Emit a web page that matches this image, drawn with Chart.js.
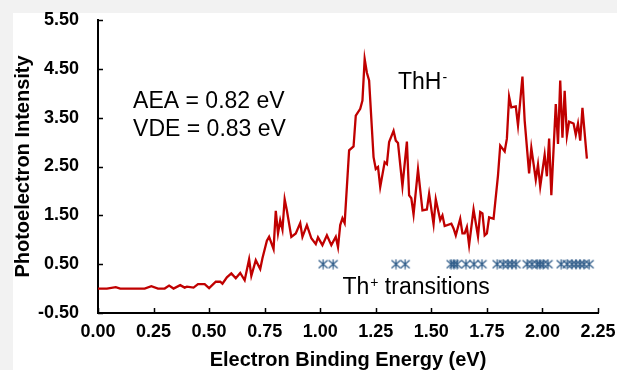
<!DOCTYPE html>
<html>
<head>
<meta charset="utf-8">
<script src="https://cdn.jsdelivr.net/npm/chart.js@4.4.1/dist/chart.umd.min.js"></script>
<style>
  html, body { margin: 0; padding: 0; background: #f2f2f2; overflow: hidden; }
  #paper { position: absolute; left: 13px; top: 13px; right: 0; bottom: 0; background: #fff; }
  #spectrum { position: absolute; left: 0; top: 0; }
</style>
</head>
<body>
<div id="paper"></div>
<canvas id="spectrum" width="617" height="370"></canvas>
<script>
// ThH- photoelectron spectrum
const energy = [
  0.00, 0.04, 0.08, 0.10, 0.15, 0.21, 0.24, 0.27, 0.30, 0.32, 0.34, 0.37, 0.39, 0.40, 0.43, 0.45, 0.48, 0.50,
  0.53, 0.55, 0.56, 0.58, 0.60, 0.62, 0.64, 0.66, 0.68, 0.69, 0.71, 0.73, 0.74, 0.76, 0.77, 0.79, 0.80, 0.81,
  0.82, 0.83, 0.84, 0.85, 0.87, 0.89, 0.91, 0.92, 0.94, 0.96, 0.98, 0.99, 1.01, 1.03, 1.05, 1.07, 1.08, 1.09,
  1.10, 1.11, 1.13, 1.15, 1.16, 1.18, 1.19, 1.20, 1.21, 1.22, 1.24, 1.25, 1.26, 1.27, 1.29, 1.30, 1.31, 1.33,
  1.34, 1.35, 1.37, 1.39, 1.40, 1.41, 1.42, 1.44, 1.46, 1.48, 1.49, 1.51, 1.52, 1.54, 1.55, 1.56, 1.59, 1.60,
  1.61, 1.63, 1.64, 1.65, 1.66, 1.67, 1.69, 1.71, 1.72, 1.73, 1.74, 1.75, 1.76, 1.78, 1.80, 1.81, 1.83, 1.84,
  1.85, 1.86, 1.88, 1.89, 1.91, 1.92, 1.94, 1.95, 1.97, 1.98, 1.99, 2.01, 2.02, 2.03, 2.04, 2.06, 2.07, 2.08,
  2.09, 2.10, 2.11, 2.12, 2.14, 2.15, 2.16, 2.17, 2.18, 2.20
];
const intensity = [
  0.00, 0.00, 0.03, 0.00, 0.00, 0.00, 0.05, 0.00, 0.00, 0.06, 0.00, 0.07, 0.02, 0.04, 0.02, 0.09, 0.09, 0.01,
  0.14, 0.14, 0.10, 0.23, 0.31, 0.21, 0.32, 0.17, 0.60, 0.26, 0.58, 0.40, 0.62, 0.98, 1.06, 0.81, 1.59, 1.13,
  1.40, 1.21, 1.83, 1.60, 1.06, 1.13, 1.34, 1.06, 1.30, 1.03, 0.91, 1.05, 0.89, 1.09, 0.89, 1.06, 0.85, 1.30,
  1.44, 1.34, 2.83, 2.91, 3.54, 3.68, 3.85, 4.70, 4.42, 4.26, 2.69, 2.45, 2.49, 2.08, 2.59, 2.55, 3.00, 3.23,
  3.03, 2.98, 2.10, 3.01, 1.91, 1.85, 1.52, 2.44, 1.60, 1.62, 1.94, 1.32, 1.83, 1.40, 1.50, 1.28, 1.33, 1.23,
  1.09, 1.43, 1.13, 1.13, 1.26, 0.89, 1.62, 1.07, 1.57, 1.54, 1.09, 1.13, 1.46, 1.43, 2.32, 2.93, 2.81, 3.07,
  3.93, 3.71, 3.73, 3.34, 4.34, 3.44, 2.36, 2.88, 2.23, 2.54, 2.09, 2.74, 2.30, 3.07, 1.91, 3.78, 2.96, 4.26,
  3.09, 4.05, 3.13, 3.42, 3.38, 3.15, 3.38, 3.03, 3.70, 2.66
];

// Th+ atomic transitions, all drawn at one height
const transitions = [
  1.013, 1.058, 1.341, 1.382, 1.589, 1.602, 1.616, 1.656, 1.692, 1.728,
  1.796, 1.823, 1.845, 1.863, 1.881, 1.931, 1.953, 1.976, 1.989, 2.003, 2.025,
  2.084, 2.111, 2.133, 2.151, 2.169, 2.187, 2.210
];
const transitionLevel = 0.5;

const xTicks = [0, 0.25, 0.5, 0.75, 1.0, 1.25, 1.5, 1.75, 2.0, 2.25];
const yTicks = [-0.5, 0.5, 1.5, 2.5, 3.5, 4.5, 5.5];

// text labels placed in data coordinates
const notes = [
  { text: "AEA = 0.82 eV", x: 0.158, y: 3.70 },
  { text: "VDE = 0.83 eV", x: 0.158, y: 3.13 },
  { text: "ThH", sup: "-", x: 1.35, y: 4.09 },
  { text: "Th", sup: "+", rest: " transitions", x: 1.10, y: -0.11 },
];

const FONT = "'Liberation Sans', Arial, sans-serif";
Chart.defaults.font.family = FONT;
Chart.defaults.color = "#000";

// asterisk marker like the spreadsheet's "*" symbol
const star = document.createElement("canvas");
star.width = 11;
star.height = 11;
(function () {
  const c = star.getContext("2d");
  c.strokeStyle = "#2b5987";
  c.lineWidth = 1.2;
  c.beginPath();
  c.moveTo(1, 1.5); c.lineTo(10, 9.5);
  c.moveTo(10, 1.5); c.lineTo(1, 9.5);
  c.moveTo(5.5, 0.5); c.lineTo(5.5, 10.5);
  c.stroke();
})();

// inward tick marks + text notes
const extras = {
  id: "extras",
  afterDraw(chart) {
    const { ctx, chartArea, scales } = chart;
    const xs = scales.x, ys = scales.y;
    ctx.save();
    ctx.strokeStyle = "#000";
    ctx.lineWidth = 1.5;
    ctx.beginPath();
    xs.ticks.forEach((t) => {
      const px = Math.round(xs.getPixelForValue(t.value)) + 0.5;
      ctx.moveTo(px, chartArea.bottom);
      ctx.lineTo(px, chartArea.bottom - 5);
    });
    ys.ticks.forEach((t) => {
      const py = Math.round(ys.getPixelForValue(t.value)) + 0.5;
      ctx.moveTo(chartArea.left, py);
      ctx.lineTo(chartArea.left + 5, py);
    });
    ctx.stroke();

    ctx.fillStyle = "#000";
    ctx.textBaseline = "alphabetic";
    ctx.textAlign = "left";
    notes.forEach((n) => {
      let px = xs.getPixelForValue(n.x);
      const py = ys.getPixelForValue(n.y);
      ctx.font = "23px " + FONT;
      ctx.fillText(n.text, px, py);
      px += ctx.measureText(n.text).width;
      if (n.sup) {
        ctx.font = "14px " + FONT;
        ctx.fillText(n.sup, px + 1, py - 7);
        px += ctx.measureText(n.sup).width + 1;
      }
      if (n.rest) {
        ctx.font = "23px " + FONT;
        ctx.fillText(n.rest, px, py);
      }
    });
    ctx.restore();
  },
};

new Chart(document.getElementById("spectrum"), {
  type: "line",
  data: {
    datasets: [
      {
        label: "ThH-",
        data: energy.map((e, i) => ({ x: e, y: intensity[i] })),
        borderColor: "#c00000",
        borderWidth: 2.3,
        pointRadius: 0,
        tension: 0,
        fill: false,
      },
      {
        label: "Th+ transitions",
        type: "scatter",
        data: transitions.map((e) => ({ x: e, y: transitionLevel })),
        pointStyle: star,
        pointRadius: 5,
        showLine: false,
      },
    ],
  },
  options: {
    responsive: false,
    animation: false,
    devicePixelRatio: 1,
    layout: { padding: { top: 20, right: 19, left: 13, bottom: 0 } },
    plugins: { legend: { display: false }, tooltip: { enabled: false } },
    scales: {
      x: {
        type: "linear",
        min: 0,
        max: 2.25,
        afterBuildTicks: (s) => { s.ticks = xTicks.map((v) => ({ value: v })); },
        afterFit: (s) => { s.height = 57; s.paddingLeft = 0; s.paddingRight = 0; },
        ticks: {
          autoSkip: false,
          maxRotation: 0,
          padding: 8,
          font: { size: 18, weight: "bold" },
          callback: (v) => Number(v).toFixed(2),
        },
        grid: { drawOnChartArea: false, drawTicks: false },
        border: { display: true, color: "#000", width: 2 },
        title: {
          display: true,
          text: "Electron Binding Energy (eV)",
          font: { size: 20, weight: "bold", lineHeight: 1 },
          padding: 0,
        },
      },
      y: {
        type: "linear",
        min: -0.5,
        max: 5.5,
        afterBuildTicks: (s) => { s.ticks = yTicks.map((v) => ({ value: v })); },
        afterFit: (s) => { s.width = 85; s.paddingTop = 0; s.paddingBottom = 0; },
        ticks: {
          padding: 19,
          font: { size: 18, weight: "bold" },
          callback: (v) => Number(v).toFixed(2),
        },
        grid: { drawOnChartArea: false, drawTicks: false },
        border: { display: true, color: "#000", width: 2 },
        title: {
          display: true,
          text: "Photoelectron Intensity",
          font: { size: 20, weight: "bold", lineHeight: 1 },
          padding: 0,
        },
      },
    },
  },
  plugins: [extras],
});
</script>
</body>
</html>
